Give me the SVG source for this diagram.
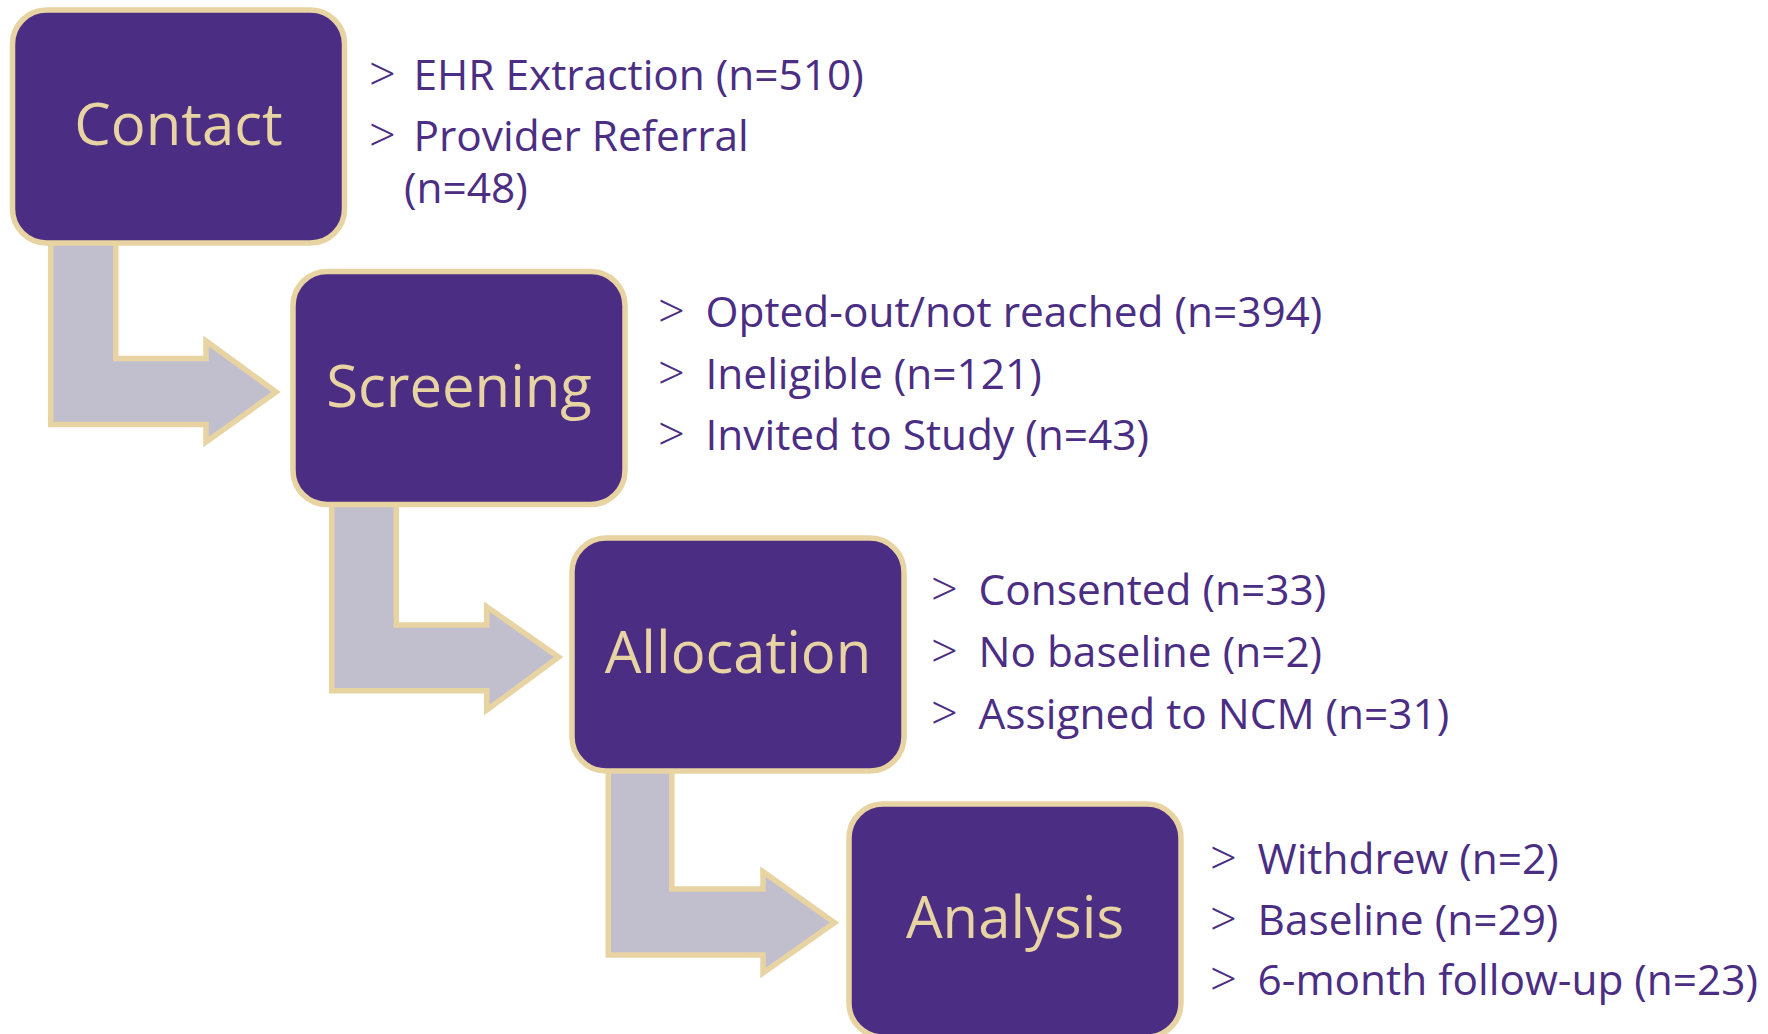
<svg xmlns="http://www.w3.org/2000/svg" width="1768" height="1034" viewBox="0 0 1768 1034">
<style>
.box{fill:#4B2E83;stroke:#E8D3A2;stroke-width:5.5}
.arrow{fill:#C1BFCE;stroke:#E8D3A2;stroke-width:5.5;stroke-linejoin:miter}
.lbl{font-family:"Open Sans","Noto Sans",sans-serif;font-size:58px;fill:#E8D3A2;text-anchor:middle}
.bul{font-family:"Open Sans","Noto Sans",sans-serif;font-size:42.4px;fill:#4B2E83}
.gt{font-size:47px;font-weight:350}
</style>
<rect width="1768" height="1034" fill="#FFFFFF"/>
<g id="connectors">
<path class="arrow" d="M50.7,235 L115.8,235 L115.8,358.5 L206,358.5 L206,341 L276,392 L206,442 L206,424.5 L50.7,424.5 Z"/>
<path class="arrow" d="M331.7,497 L396.3,497 L396.3,625 L486.7,625 L486.7,606.7 L558.6,657 L486.7,710 L486.7,690.7 L331.7,690.7 Z"/>
<path class="arrow" d="M608.3,763 L671.8,763 L671.8,889 L763,889 L763,871.7 L834.5,922.7 L763,973 L763,955 L608.3,955 Z"/>
</g>
<g id="contact">
<rect class="box" x="12.5" y="10" width="332" height="233" rx="34"/>
<text class="lbl" x="178.5" y="145">Contact</text>
<text class="bul" y="90"><tspan class="gt" x="369" dy="1">&gt;</tspan><tspan x="413.5" dy="-1">EHR Extraction (n=510)</tspan></text>
<text class="bul" y="151"><tspan class="gt" x="369" dy="1">&gt;</tspan><tspan x="413.5" dy="-1">Provider Referral</tspan></text>
<text class="bul" x="404" y="203">(n=48)</text>
</g>
<g id="screening">
<rect class="box" x="293" y="271.5" width="332" height="233" rx="34"/>
<text class="lbl" x="459" y="406.5">Screening</text>
<text class="bul" y="327"><tspan class="gt" x="658" dy="1">&gt;</tspan><tspan x="705.5" dy="-1">Opted-out/not reached (n=394)</tspan></text>
<text class="bul" y="389"><tspan class="gt" x="658" dy="1">&gt;</tspan><tspan x="705.5" dy="-1">Ineligible (n=121)</tspan></text>
<text class="bul" y="450"><tspan class="gt" x="658" dy="1">&gt;</tspan><tspan x="705.5" dy="-1">Invited to Study (n=43)</tspan></text>
</g>
<g id="allocation">
<rect class="box" x="572" y="538" width="332" height="233" rx="34"/>
<text class="lbl" x="738" y="673">Allocation</text>
<text class="bul" y="605"><tspan class="gt" x="931" dy="1">&gt;</tspan><tspan x="978.5" dy="-1">Consented (n=33)</tspan></text>
<text class="bul" y="667"><tspan class="gt" x="931" dy="1">&gt;</tspan><tspan x="978.5" dy="-1">No baseline (n=2)</tspan></text>
<text class="bul" y="729"><tspan class="gt" x="931" dy="1">&gt;</tspan><tspan x="978.5" dy="-1">Assigned to NCM (n=31)</tspan></text>
</g>
<g id="analysis">
<rect class="box" x="849" y="804" width="332" height="233" rx="34"/>
<text class="lbl" x="1015" y="938">Analysis</text>
<text class="bul" y="874"><tspan class="gt" x="1210" dy="1">&gt;</tspan><tspan x="1257.5" dy="-1">Withdrew (n=2)</tspan></text>
<text class="bul" y="935"><tspan class="gt" x="1210" dy="1">&gt;</tspan><tspan x="1257.5" dy="-1">Baseline (n=29)</tspan></text>
<text class="bul" y="995"><tspan class="gt" x="1210" dy="1">&gt;</tspan><tspan x="1257.5" dy="-1">6-month follow-up (n=23)</tspan></text>
</g>
</svg>
